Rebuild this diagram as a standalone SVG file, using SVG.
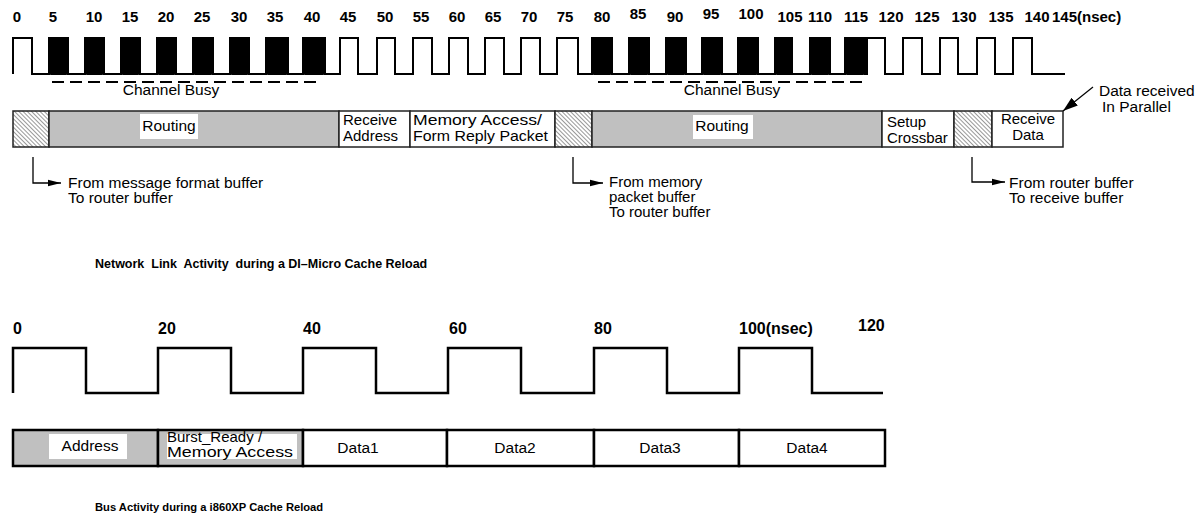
<svg xmlns="http://www.w3.org/2000/svg" width="1198" height="518" viewBox="0 0 1198 518">
<style>
text{font-family:"Liberation Sans",Arial,sans-serif;fill:#000}
.tick{font-size:15px;font-weight:bold;text-anchor:middle}
.tickb{font-size:16px;font-weight:bold}
.lbl{font-size:15.5px}
.ml{font-size:15px}
.mid{text-anchor:middle}
.title{font-weight:bold}
.wave{fill:none;stroke:#000;stroke-width:2}
.wave2{fill:none;stroke:#000;stroke-width:2.5}
.blk{fill:#000}
.seg{stroke:#222;stroke-width:1.5}
.gray{fill:#c0c0c0}
.white{fill:#fff}
.hatch{fill:url(#hatch)}
.bseg{stroke:#000;stroke-width:2.5}
.dash{stroke:#000;stroke-width:2;stroke-dasharray:12 6;fill:none}
.conn{fill:none;stroke:#000;stroke-width:1.3}
</style>
<defs>
<pattern id="hatch" width="3" height="3" patternUnits="userSpaceOnUse" patternTransform="rotate(-45)">
<rect width="3" height="3" fill="#fff"/>
<line x1="0" y1="0" x2="0" y2="3" stroke="#444" stroke-width="1.1"/>
</pattern>
<marker id="arr" markerUnits="userSpaceOnUse" markerWidth="14" markerHeight="8" refX="13" refY="4" orient="auto">
<path d="M0,0.8 L13,4 L0,7.2 Z" fill="#000"/>
</marker>
<marker id="arrBig" markerUnits="userSpaceOnUse" markerWidth="16" markerHeight="10" refX="15" refY="5" orient="auto">
<path d="M0,0 L15,5 L0,10 Z" fill="#000"/>
</marker>
</defs>
<rect width="1198" height="518" fill="#fff"/>

<g id="top-ticks">
<text class="tick" x="17" y="22">0</text>
<text class="tick" x="53" y="22">5</text>
<text class="tick" x="94" y="22">10</text>
<text class="tick" x="130" y="22">15</text>
<text class="tick" x="166" y="22">20</text>
<text class="tick" x="202" y="22">25</text>
<text class="tick" x="239" y="22">30</text>
<text class="tick" x="275" y="22">35</text>
<text class="tick" x="312" y="22">40</text>
<text class="tick" x="348" y="22">45</text>
<text class="tick" x="385" y="22">50</text>
<text class="tick" x="421" y="22">55</text>
<text class="tick" x="457" y="22">60</text>
<text class="tick" x="493" y="22">65</text>
<text class="tick" x="529" y="22">70</text>
<text class="tick" x="565" y="22">75</text>
<text class="tick" x="602" y="22">80</text>
<text class="tick" x="638" y="19">85</text>
<text class="tick" x="675" y="22">90</text>
<text class="tick" x="711" y="19">95</text>
<text class="tick" x="751" y="19">100</text>
<text class="tick" x="790" y="22">105</text>
<text class="tick" x="820" y="22">110</text>
<text class="tick" x="856" y="22">115</text>
<text class="tick" x="891" y="22">120</text>
<text class="tick" x="927" y="22">125</text>
<text class="tick" x="964" y="22">130</text>
<text class="tick" x="1001" y="22">135</text>
<text class="tick" x="1037" y="22">140</text>
<text class="tick" x="1052" y="22" style="text-anchor:start">145(nsec)</text>
</g>

<g id="network-clock">
<path class="wave" d="M13,74 V38 H32 V74 H49 V38 H68 V74 H85 V38 H104 V74 H121 V38 H140 V74 H157 V38 H176 V74 H193 V38 H213 V74 H230 V38 H249 V74 H266 V38 H288 V74 H303 V38 H325 V74 H340 V38 H358 V74 H377 V38 H395 V74 H413 V38 H432 V74 H449 V38 H468 V74 H485 V38 H504 V74 H521 V38 H540 V74 H557 V38 H578 V74 H592 V38 H612 V74 H629 V38 H649 V74 H666 V38 H686 V74 H702 V38 H722 V74 H738 V38 H758 V74 H775 V38 H792 V74 H810 V38 H830 V74 H845 V38 H865 V74 H867 V38 H885 V74 H903 V38 H922 V74 H940 V38 H958 V74 H977 V38 H995 V74 H1013 V38 H1032 V74 H1065"/>
<rect class="blk" x="49" y="37" width="19" height="38" rx="2"/>
<rect class="blk" x="85" y="37" width="19" height="38" rx="2"/>
<rect class="blk" x="121" y="37" width="19" height="38" rx="2"/>
<rect class="blk" x="157" y="37" width="19" height="38" rx="2"/>
<rect class="blk" x="193" y="37" width="20" height="38" rx="2"/>
<rect class="blk" x="230" y="37" width="19" height="38" rx="2"/>
<rect class="blk" x="266" y="37" width="22" height="38" rx="2"/>
<rect class="blk" x="303" y="37" width="22" height="38" rx="2"/>
<rect class="blk" x="592" y="37" width="20" height="38" rx="2"/>
<rect class="blk" x="629" y="37" width="20" height="38" rx="2"/>
<rect class="blk" x="666" y="37" width="20" height="38" rx="2"/>
<rect class="blk" x="702" y="37" width="20" height="38" rx="2"/>
<rect class="blk" x="738" y="37" width="20" height="38" rx="2"/>
<rect class="blk" x="775" y="37" width="18" height="38" rx="2"/>
<rect class="blk" x="810" y="37" width="20" height="38" rx="2"/>
<rect class="blk" x="845" y="37" width="20" height="38" rx="2"/>
</g>

<g id="channel-busy-1">
<line class="dash" x1="52" y1="82" x2="320" y2="82"/>
<text class="lbl mid" x="171" y="95">Channel Busy</text>
</g>
<g id="channel-busy-2">
<line class="dash" x1="598" y1="82" x2="863" y2="82"/>
<text class="lbl mid" x="732" y="95">Channel Busy</text>
</g>

<g id="hatch-1"><rect class="seg hatch" x="13" y="111" width="36" height="36"/></g>
<g id="routing-1">
<rect class="seg gray" x="49" y="111" width="290" height="36"/>
<rect class="white" x="140" y="114" width="58" height="25"/>
<text class="lbl mid" x="169" y="131">Routing</text>
</g>
<g id="receive-address">
<rect class="seg white" x="339" y="111" width="71" height="36"/>
<text class="ml" x="343" y="125">Receive</text>
<text class="ml" x="343" y="141">Address</text>
</g>
<g id="memory-access">
<rect class="seg white" x="410" y="111" width="145" height="36"/>
<text class="ml" x="413" y="125" textLength="129" lengthAdjust="spacingAndGlyphs">Memory Access/</text>
<text class="ml" x="413" y="141" textLength="135" lengthAdjust="spacingAndGlyphs">Form Reply Packet</text>
</g>
<g id="hatch-2"><rect class="seg hatch" x="555" y="111" width="37" height="36"/></g>
<g id="routing-2">
<rect class="seg gray" x="592" y="111" width="290" height="36"/>
<rect class="white" x="693" y="115" width="60" height="24"/>
<text class="lbl mid" x="722" y="131">Routing</text>
</g>
<g id="setup-crossbar">
<rect class="seg white" x="882" y="111" width="72" height="36"/>
<text class="ml" x="887" y="127">Setup</text>
<text class="ml" x="887" y="143">Crossbar</text>
</g>
<g id="hatch-3"><rect class="seg hatch" x="954" y="111" width="38" height="36"/></g>
<g id="receive-data">
<rect class="seg white" x="992" y="111" width="71" height="36"/>
<text class="ml mid" x="1028" y="124">Receive</text>
<text class="ml mid" x="1028" y="140">Data</text>
</g>

<g id="note-1">
<text class="lbl" x="68" y="188">From message format buffer</text>
<text class="lbl" x="68" y="203">To router buffer</text>
</g>
<g id="note-2">
<text class="ml" x="609" y="187">From memory</text>
<text class="ml" x="609" y="202">packet buffer</text>
<text class="ml" x="609" y="217">To router buffer</text>
</g>
<g id="note-3">
<text class="lbl" x="1009" y="188">From router buffer</text>
<text class="lbl" x="1009" y="203">To receive buffer</text>
</g>
<g id="note-parallel">
<text class="lbl" x="1099" y="96">Data received</text>
<text class="lbl" x="1102" y="112">In Parallel</text>
</g>

<g id="connectors">
<path class="conn" d="M33,157 V183 H61" marker-end="url(#arr)"/>
<path class="conn" d="M573,157 V183 H603" marker-end="url(#arr)"/>
<path class="conn" d="M972,157 V182 H1005" marker-end="url(#arr)"/>
<line class="conn" x1="1093" y1="87" x2="1063" y2="111" stroke-width="2" marker-end="url(#arrBig)"/>
</g>

<g id="title-network">
<text class="title" x="95" y="268" font-size="12.5" xml:space="preserve">Network  Link  Activity  during a DI–Micro Cache Reload</text>
</g>

<g id="bottom-ticks">
<text class="tickb" x="13" y="334">0</text>
<text class="tickb" x="158" y="334">20</text>
<text class="tickb" x="303" y="334">40</text>
<text class="tickb" x="449" y="334">60</text>
<text class="tickb" x="594" y="334">80</text>
<text class="tickb" x="739" y="334">100(nsec)</text>
<text class="tickb" x="858" y="331">120</text>
</g>

<g id="bus-clock">
<path class="wave2" d="M13,393 V348 H86 V393 H158 V348 H231 V393 H303 V348 H376 V393 H448 V348 H521 V393 H594 V348 H667 V393 H739 V348 H812 V393 H883"/>
</g>

<g id="address">
<rect class="bseg gray" x="13" y="430" width="145" height="36"/>
<rect class="white" x="49" y="434" width="78" height="25"/>
<text class="lbl mid" x="90" y="451">Address</text>
</g>
<g id="burst-ready">
<rect class="bseg gray" x="158" y="430" width="145" height="36"/>
<rect class="white" x="167" y="434" width="130" height="25"/>
<text class="ml" x="167" y="442">Burst_Ready /</text>
<text class="ml" x="167" y="457" textLength="126" lengthAdjust="spacingAndGlyphs">Memory Access</text>
</g>
<g id="data1">
<rect class="bseg white" x="303" y="430" width="144" height="36"/>
<text class="lbl mid" x="358" y="453">Data1</text>
</g>
<g id="data2">
<rect class="bseg white" x="447" y="430" width="147" height="36"/>
<text class="lbl mid" x="515" y="453">Data2</text>
</g>
<g id="data3">
<rect class="bseg white" x="594" y="430" width="145" height="36"/>
<text class="lbl mid" x="660" y="453">Data3</text>
</g>
<g id="data4">
<rect class="bseg white" x="739" y="430" width="146" height="36"/>
<text class="lbl mid" x="807" y="453">Data4</text>
</g>

<g id="title-bus">
<text class="title" x="95" y="511" font-size="11.2">Bus Activity during a i860XP Cache Reload</text>
</g>
</svg>
